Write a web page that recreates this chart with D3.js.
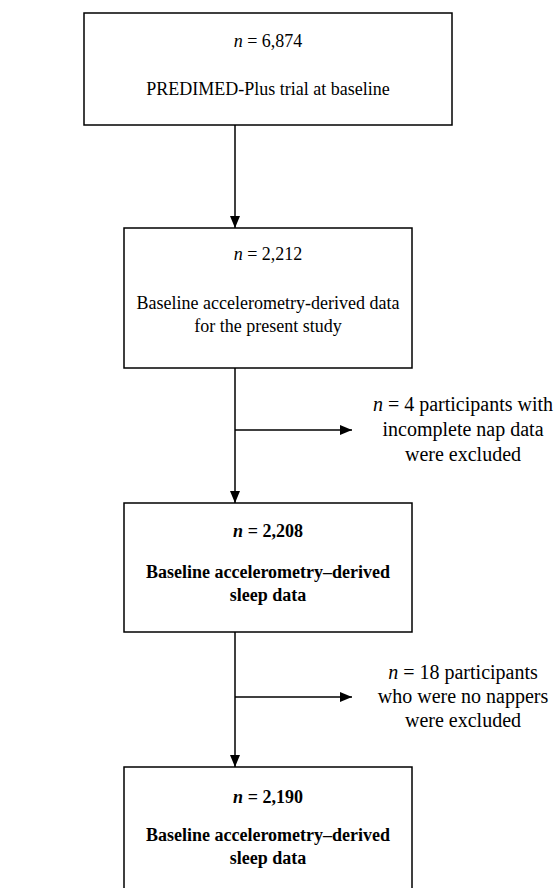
<!DOCTYPE html>
<html>
<head>
<meta charset="utf-8">
<script src="https://cdn.jsdelivr.net/npm/d3@7"></script>
<style>
  html, body { margin: 0; padding: 0; background: #fff; }
  svg text { font-family: "Liberation Serif", "Times New Roman", serif; fill: #000; }
</style>
</head>
<body>
<svg id="chart"></svg>
<script>
// flowchart data
const stepCounts = ['6,874', '2,212', '2,208', '2,190'];
const stepLabels = [
    ['PREDIMED-Plus trial at baseline'],
    ['Baseline accelerometry-derived data', 'for the present study'],
    ['Baseline accelerometry\u2013derived', 'sleep data'],
    ['Baseline accelerometry\u2013derived', 'sleep data']
];
const stepBold = [false, false, true, true];
const excludedCounts = ['4', '18'];
const excludedLines = [
    ['participants with', 'incomplete nap data', 'were excluded'],
    ['participants', 'who were no nappers', 'were excluded']
];

const width = 560,
    height = 888,
    stemX = 235,
    textX = 268,
    noteX = 463;

// box layout (pixels)
const boxes = [
    { x0: 84, x1: 452, y0: 13, y1: 125, nY: 47, lineY: [95] },
    { x0: 124, x1: 412, y0: 228, y1: 368, nY: 260, lineY: [309, 332] },
    { x0: 124, x1: 412, y0: 503, y1: 632, nY: 537, lineY: [578, 601] },
    { x0: 124, x1: 412, y0: 767, y1: 896, nY: 803, lineY: [841, 864] }
];
const branches = [
    { y: 430, tipX: 352, lineY: [411, 436, 461] },
    { y: 697, tipX: 352, lineY: [679, 703, 727] }
];

const svg = d3.select('#chart')
    .attr('width', width)
    .attr('height', height);

svg.append('defs').append('marker')
    .attr('id', 'head')
    .attr('viewBox', '0 0 12 10')
    .attr('refX', 12)
    .attr('refY', 5)
    .attr('markerWidth', 12)
    .attr('markerHeight', 10)
    .attr('markerUnits', 'userSpaceOnUse')
    .attr('orient', 'auto')
    .append('path')
    .attr('d', 'M0,0L12,5L0,10Z')
    .attr('fill', '#000');

// boxes
svg.append('g')
    .selectAll('rect')
    .data(boxes)
    .enter().append('rect')
    .attr('x', d => d.x0)
    .attr('y', d => d.y0)
    .attr('width', d => d.x1 - d.x0)
    .attr('height', d => d.y1 - d.y0)
    .attr('fill', 'none')
    .attr('stroke', '#000')
    .attr('stroke-width', 1.5);

// vertical arrows
svg.append('g')
    .selectAll('line')
    .data(d3.pairs(boxes))
    .enter().append('line')
    .attr('x1', stemX)
    .attr('x2', stemX)
    .attr('y1', d => d[0].y1)
    .attr('y2', d => d[1].y0)
    .attr('stroke', '#000')
    .attr('stroke-width', 1.5)
    .attr('marker-end', 'url(#head)');

// side arrows
svg.append('g')
    .selectAll('line')
    .data(branches)
    .enter().append('line')
    .attr('x1', stemX)
    .attr('x2', d => d.tipX)
    .attr('y1', d => d.y)
    .attr('y2', d => d.y)
    .attr('stroke', '#000')
    .attr('stroke-width', 1.5)
    .attr('marker-end', 'url(#head)');

// box text
boxes.forEach((b, i) => {
    const g = svg.append('g')
        .attr('font-size', 18)
        .attr('font-weight', stepBold[i] ? 'bold' : 'normal')
        .attr('text-anchor', 'middle');
    const n = g.append('text')
        .attr('x', textX)
        .attr('y', b.nY);
    n.append('tspan').attr('font-style', 'italic').text('n');
    n.append('tspan').text(' = ' + stepCounts[i]);
    g.selectAll('text.line')
        .data(stepLabels[i])
        .enter().append('text')
        .attr('class', 'line')
        .attr('x', textX)
        .attr('y', (d, j) => b.lineY[j])
        .text(d => d);
});

// exclusion notes
branches.forEach((br, i) => {
    const g = svg.append('g')
        .attr('font-size', 20)
        .attr('text-anchor', 'middle');
    excludedLines[i].forEach((line, j) => {
        const t = g.append('text')
            .attr('x', noteX)
            .attr('y', br.lineY[j]);
        if (j === 0) {
            t.append('tspan').attr('font-style', 'italic').text('n');
            t.append('tspan').text(' = ' + excludedCounts[i] + ' ' + line);
        } else {
            t.text(line);
        }
    });
});
</script>
</body>
</html>
